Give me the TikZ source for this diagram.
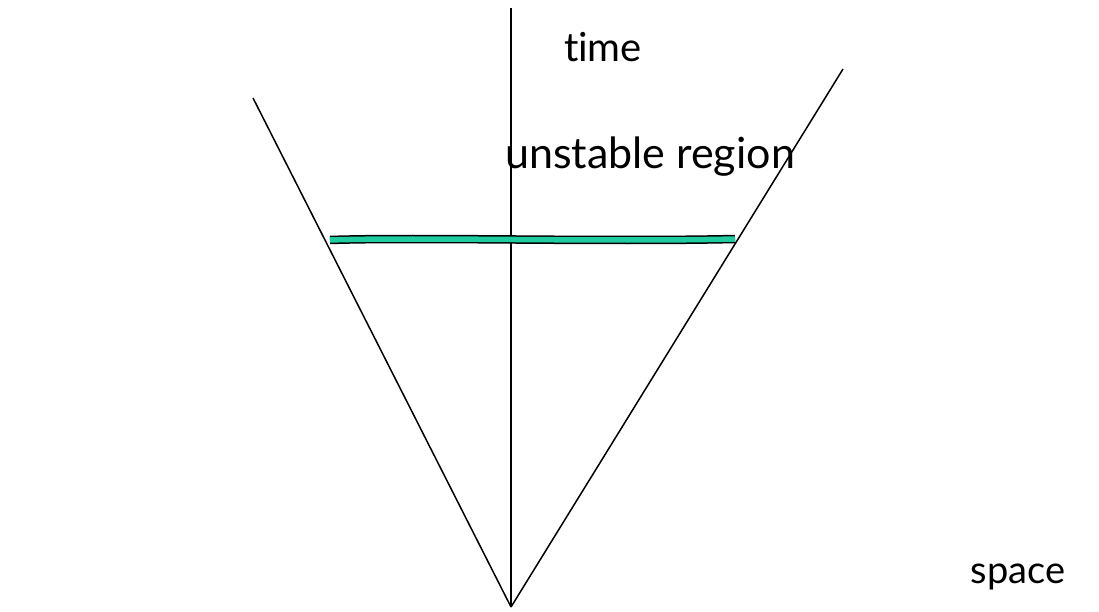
\documentclass[tikz,border=0pt]{standalone}
\usepackage{fontspec}
\setmainfont[Ligatures=NoCommon]{Lato}
\usepackage{tikz}
\definecolor{bargreen}{RGB}{30, 204, 160}

\begin{document}
\begin{tikzpicture}[x=1pt, y=-1pt]

    % Frame of the picture
    \useasboundingbox (0, 0) rectangle (1099, 612);

    % Apex and axis
    \coordinate (apex) at (511, 607);
    \coordinate (axistop) at (511, 8);
    \coordinate (lefttop) at (253, 98);
    \coordinate (righttop) at (843, 69);

    % Cone and time axis
    \draw[line width=1.5pt] (apex) -- (axistop);
    \draw[line width=1.5pt] (apex) -- (lefttop);
    \draw[line width=1.5pt] (apex) -- (righttop);

    % Unstable slice
    \coordinate (barleft) at (330, 240);
    \coordinate (barright) at (735, 239);
    \draw[line width=8.5pt] (barleft) .. controls (420, 237) and (600, 242) .. (barright);
    \draw[line width=5.5pt, bargreen] (barleft) .. controls (420, 237) and (600, 242) .. (barright);

    % Labels
    \node[font=\fontsize{40}{48}\selectfont] at (603, 47) (time) {time};
    \node[font=\fontsize{43}{50}\selectfont] at (650, 157) (unstable) {unstable region};
    \node[font=\fontsize{38}{46}\selectfont] at (1018, 577) (space) {space};

\end{tikzpicture}
\end{document}
